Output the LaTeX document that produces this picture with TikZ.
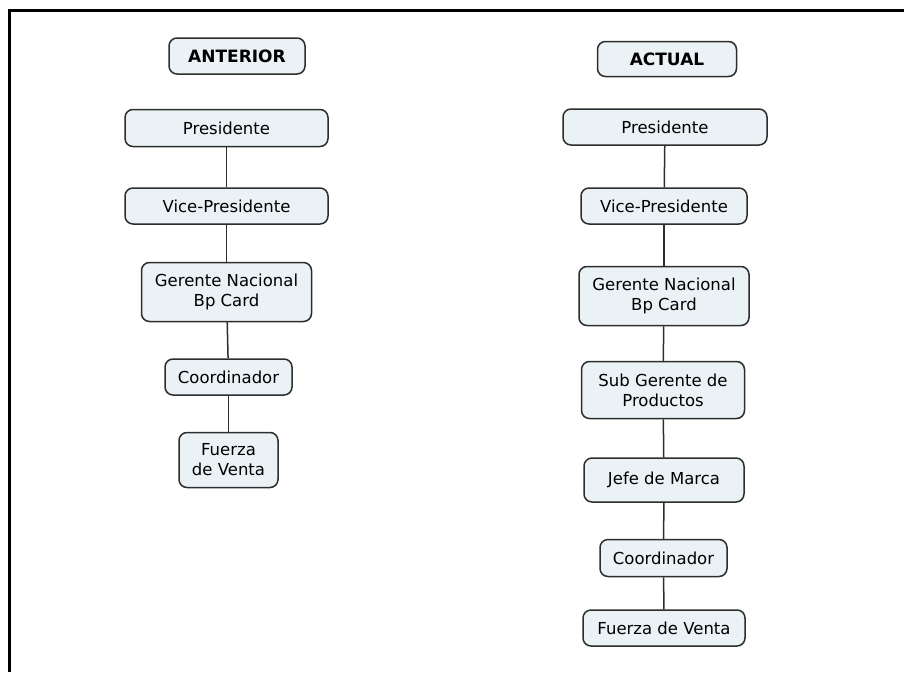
\documentclass[tikz,border=0pt]{standalone}
\usepackage{fontspec}
\setmainfont{DejaVu Sans}
\definecolor{boxfill}{RGB}{234,242,246}
\definecolor{boxline}{RGB}{45,45,45}
\begin{document}
\begin{tikzpicture}[x=1pt,y=-1pt,
  box/.style={draw=boxline, line width=1.5pt, fill=boxfill, rounded corners=8pt,
    align=center, inner sep=0pt, font=\fontsize{16.5}{20}\selectfont},
  title/.style={box, font=\bfseries\fontsize{17}{20}\selectfont},
  link/.style={draw=boxline, line width=1.5pt}]
\useasboundingbox (0,0) rectangle (904,672);
\draw[line width=3pt] (9,672) -- (9,10) -- (904,10);
% left column
\node[title, minimum width=136pt, minimum height=36pt] (la) at (237,56) {ANTERIOR};
\node[box, minimum width=203pt, minimum height=37pt] (l1) at (226.5,128) {Presidente};
\node[box, minimum width=203pt, minimum height=36pt] (l2) at (226.5,206) {Vice-Presidente};
\node[box, minimum width=170pt, minimum height=59pt] (l3) at (226.5,292) {Gerente Nacional\\Bp Card};
\node[box, minimum width=127pt, minimum height=36pt] (l4) at (228.5,377) {Coordinador};
\node[box, minimum width=99pt, minimum height=55pt] (l5) at (228.5,460) {Fuerza\\de Venta};
% right column
\node[title, minimum width=139pt, minimum height=35pt] (ra) at (667,59) {ACTUAL};
\node[box, minimum width=204pt, minimum height=36pt] (r1) at (665,127) {Presidente};
\node[box, minimum width=166pt, minimum height=36pt] (r2) at (664,206) {Vice-Presidente};
\node[box, minimum width=170pt, minimum height=59pt] (r3) at (664,296) {Gerente Nacional\\Bp Card};
\node[box, minimum width=163pt, minimum height=57pt] (r4) at (663,390) {Sub Gerente de\\Productos};
\node[box, minimum width=160pt, minimum height=44pt] (r5) at (664,480) {Jefe de Marca};
\node[box, minimum width=127pt, minimum height=37pt] (r6) at (663.5,558) {Coordinador};
\node[box, minimum width=162pt, minimum height=36pt] (r7) at (664,628) {Fuerza de Venta};
% connectors
\foreach \a/\b in {l1/l2,l2/l3,l3/l4,l4/l5,r1/r2,r2/r3,r3/r4,r4/r5,r5/r6,r6/r7}
  \draw[link] (\a) -- (\b);
\end{tikzpicture}
\end{document}
